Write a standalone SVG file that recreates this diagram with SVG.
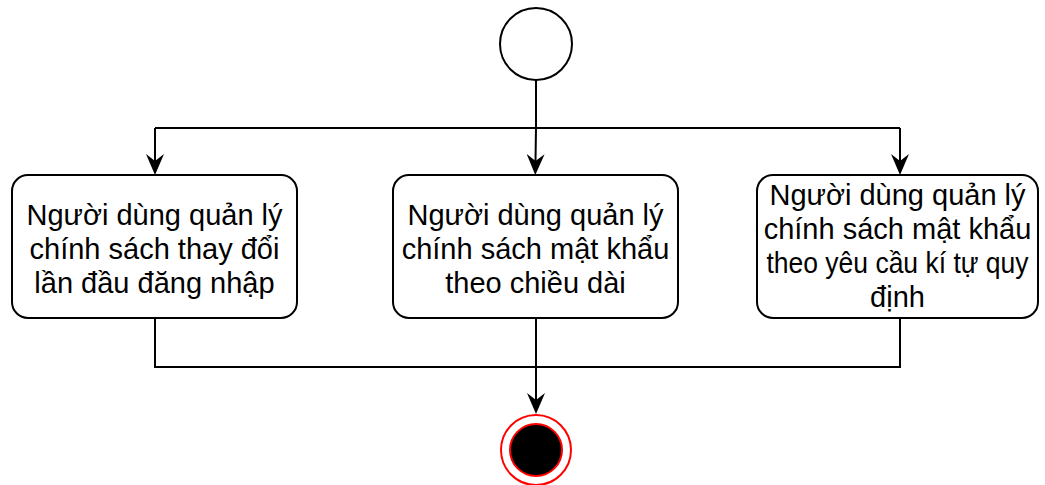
<svg xmlns="http://www.w3.org/2000/svg" width="1045" height="485" viewBox="0 0 1045 485">
<style>
.box{fill:#fff;stroke:#000;stroke-width:2}
.lbl{font-family:"Liberation Sans",Arial,sans-serif;font-size:29px;fill:#000;text-anchor:middle}
.wire{fill:none;stroke:#000;stroke-width:2}
</style>
<defs>
<marker id="arr" viewBox="0 0 21 18" markerWidth="21" markerHeight="18" refX="7" refY="9" orient="auto" markerUnits="userSpaceOnUse">
<path d="M0,0 L21,9 L0,18 L7,9 Z" fill="#000"/>
</marker>
</defs>
<rect width="1045" height="485" fill="#fff"/>
<g id="start"><circle cx="536" cy="44" r="36" fill="#fff" stroke="#000" stroke-width="2"/></g>
<g id="connectors">
<path class="wire" d="M536,80 L536,128"/>
<path class="wire" d="M155,128 L900,128"/>
<path class="wire" d="M536,128 L535.5,161" marker-end="url(#arr)"/>
<path class="wire" d="M155,128 L155,161" marker-end="url(#arr)"/>
<path class="wire" d="M900,128 L900,161" marker-end="url(#arr)"/>
<path class="wire" d="M155,318 L155,367 L900,367 L900,318"/>
<path class="wire" d="M536,318 L536,400" marker-end="url(#arr)"/>
</g>
<g id="node1">
<rect class="box" x="12" y="175" width="285" height="143" rx="16"/>
<text class="lbl" x="154.5" y="225">Người dùng quản lý</text>
<text class="lbl" x="154.5" y="259">chính sách thay đổi</text>
<text class="lbl" x="154.5" y="293">lần đầu đăng nhập</text>
</g>
<g id="node2">
<rect class="box" x="393" y="175" width="285" height="143" rx="16"/>
<text class="lbl" x="535.5" y="225">Người dùng quản lý</text>
<text class="lbl" x="535.5" y="259">chính sách mật khẩu</text>
<text class="lbl" x="535.5" y="293">theo chiều dài</text>
</g>
<g id="node3">
<rect class="box" x="757" y="175" width="281" height="143" rx="16"/>
<text class="lbl" x="897.5" y="205">Người dùng quản lý</text>
<text class="lbl" x="897.5" y="239">chính sách mật khẩu</text>
<text class="lbl" x="897.5" y="273" textLength="262" lengthAdjust="spacingAndGlyphs">theo yêu cầu kí tự quy</text>
<text class="lbl" x="897.5" y="307">định</text>
</g>
<g id="end">
<circle cx="536" cy="450" r="35" fill="#fff" stroke="#f00" stroke-width="2"/>
<circle cx="536" cy="450" r="26" fill="#000" stroke="#f00" stroke-width="2"/>
</g>
</svg>
